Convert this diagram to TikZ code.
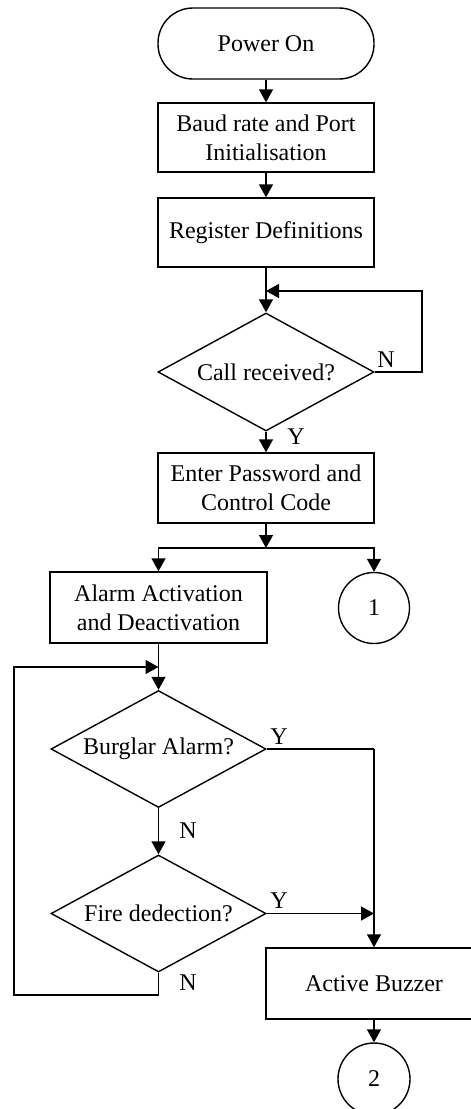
\documentclass[tikz,border=0pt]{standalone}
\usepackage{fontspec}
\setmainfont{Liberation Serif}
\usetikzlibrary{arrows.meta,shapes.geometric}

\begin{document}
\begin{tikzpicture}[x=1pt,y=-1pt,
  every node/.style={font=\fontsize{24}{29}\selectfont, align=center, inner sep=0pt},
  flowline/.style={line width=1.4pt},
  arrowline/.style={flowline, -{Triangle[length=13pt,width=14pt]}},
  procbox/.style={draw, line width=1.4pt, rectangle, minimum width=216pt, minimum height=70pt},
  termbox/.style={draw, line width=1.4pt, rectangle, rounded corners=35pt, minimum width=216pt, minimum height=71pt},
  decide/.style={draw, line width=1.4pt, diamond, aspect=1.83, minimum width=216pt, minimum height=118pt},
  connector/.style={draw, line width=1.4pt, circle, minimum size=71pt},
  branchlabel/.style={font=\fontsize{24}{29}\selectfont}
]
\clip (0,0) rectangle (471,1109);

% main column
\node[termbox] (pwr) at (266,43.5) {Power On};
\node[procbox, minimum height=69pt] (baud) at (266,137.5) {Baud rate and Port\\Initialisation};
\node[procbox, minimum height=69pt] (reg) at (266,232.5) {Register Definitions};
\node[decide] (call) at (266,372) {Call received?};
\node[procbox] (enter) at (266,488) {Enter Password and\\Control Code};

% branch into two paths
\node[procbox, minimum width=217pt, minimum height=71pt] (alarm) at (158.5,607.5) {Alarm Activation\\and Deactivation};
\node[connector] (c1) at (374,608) {1};

% detection loop
\node[decide, minimum width=215pt, minimum height=117pt] (burg) at (158.5,749) {Burglar Alarm?};
\node[decide, minimum width=215pt, minimum height=117pt] (fire) at (158.5,913.5) {Fire dedection?};
\node[procbox, minimum height=71pt] (buzz) at (374,983.5) {Active Buzzer};
\node[connector, minimum size=72pt] (c2) at (374,1079) {2};

% helper points
\coordinate (j1) at (266,291);
\coordinate (r1) at (422,372);
\coordinate (split) at (266,548);
\coordinate (j2) at (158.5,667);
\coordinate (lp1) at (158.5,995);
\coordinate (lp2) at (14,995);
\coordinate (bc) at (374,749);
\coordinate (fc) at (374,913.5);

% connectors
\draw[arrowline] (pwr) -- (baud);
\draw[arrowline] (baud) -- (reg);
\draw[arrowline] (reg) -- (call);
\draw[arrowline] (call.east) -- (r1) |- (j1);
\draw[arrowline] (call) -- (enter);
\draw[arrowline] (enter) -- (split);
\draw[arrowline] (split) -| (alarm.north);
\draw[arrowline] (split) -| (c1.north);
\draw[arrowline] (alarm) -- (burg);
\draw[arrowline] (burg) -- (fire);
\draw[flowline] (burg.east) -- (bc);
\draw[arrowline] (bc) -- (buzz);
\draw[arrowline] (fire.east) -- (fc);
\draw[arrowline] (fire.south) -- (lp1) -- (lp2) |- (j2);
\draw[arrowline] (buzz) -- (c2);

% branch labels
\node[branchlabel] (ln1) at (386,360) {N};
\node[branchlabel] (ly1) at (296,437) {Y};
\node[branchlabel] (ly2) at (279,737) {Y};
\node[branchlabel] (ln2) at (188,831) {N};
\node[branchlabel] (ly3) at (279,901) {Y};
\node[branchlabel] (ln3) at (188,983) {N};
\end{tikzpicture}
\end{document}
